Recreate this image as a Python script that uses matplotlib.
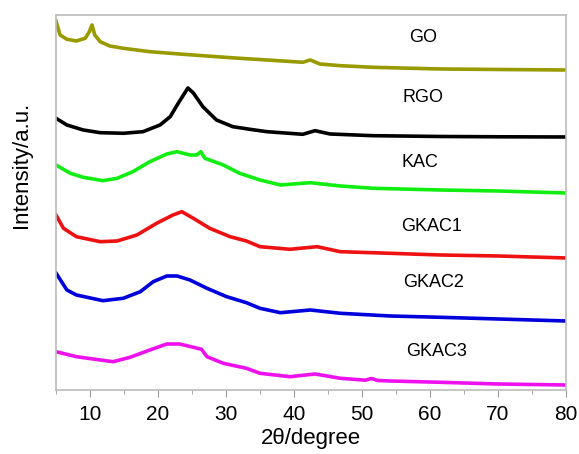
import numpy as np
import matplotlib
matplotlib.use("Agg")
import matplotlib.pyplot as plt
from matplotlib.ticker import MultipleLocator

plt.rcParams['font.family'] = ['Liberation Sans', 'DejaVu Sans']

# XRD patterns (stacked, arbitrary units)
go_x = [5, 5.6, 6.6, 8.0, 9.3, 9.9, 10.3, 10.7, 11.5, 12.9, 14.9, 18.8, 23.7, 28.6, 32, 36,
        41.3, 42.4, 43.8, 46.8, 51.6, 61.5, 70, 80]
go_y = [369, 355, 350.7, 349, 351.7, 358.3, 365, 355, 348.3, 344, 341.7, 338.3, 335.7, 333.3,
        331.7, 330, 327.7, 330, 326, 324.3, 322.7, 321, 320.5, 320]

rgo_x = [5, 6.6, 9, 11.5, 14.9, 17.8, 20.3, 21.8, 23, 24.4, 25.2, 26.6, 28.6, 31, 33.5, 36,
         41.3, 43.1, 45.3, 51.6, 61.5, 70, 80]
rgo_y = [271.7, 265, 260, 257.3, 256.7, 258.3, 265, 273.3, 287, 302, 297, 283.3, 270, 263.3,
         260.7, 258.3, 255.7, 259.3, 256, 254.3, 253.5, 253.2, 253]

kac_x = [5, 7.1, 9, 11.9, 14, 16.3, 18.8, 21.3, 22.8, 24.7, 25.7, 26.3, 26.9, 29.6, 32, 35,
         38, 42.4, 46.8, 51.6, 61.5, 70, 80]
kac_y = [225, 216.7, 212.7, 209.3, 211.7, 218.3, 228.3, 236, 238.3, 235, 235, 238.3, 231.7,
         225, 216.7, 210, 205, 207.3, 204, 201.7, 200, 199, 197]

gkac1_x = [5, 6.1, 8, 11.5, 14, 16.9, 19.8, 22.2, 23.5, 25.2, 27.6, 30.6, 33, 35, 39.4, 43.4,
           46.8, 54.1, 61.5, 70, 80]
gkac1_y = [175, 161.7, 153.3, 148.3, 149, 155, 166.7, 175, 178.3, 171.7, 161.7, 153.3, 149,
           143.3, 140.7, 143.3, 138.3, 136.7, 135, 134, 132]

gkac2_x = [5, 6.6, 8, 11.9, 14.9, 17.4, 19.3, 21.3, 22.8, 24.7, 27.2, 30.1, 33, 35, 38, 42.4,
           46.8, 54.1, 61.5, 70, 80]
gkac2_y = [117, 100, 95, 89.3, 91.7, 98.3, 108.3, 114, 114, 110, 101.7, 93.3, 87.3, 81.7,
           77.3, 80, 76.7, 74, 72.7, 71, 69]

gkac3_x = [5, 8, 11.5, 13.4, 15.9, 18.8, 21.3, 23.2, 25.2, 26.4, 27.2, 29.6, 33, 35, 39.4,
           43.1, 46.8, 50.5, 51.4, 52.3, 54.1, 61.5, 70, 80]
gkac3_y = [38.3, 33.3, 30, 28.3, 32.7, 40, 46, 46, 42.7, 40.7, 33.3, 26.7, 21.7, 16.7, 13.3,
           16, 11.7, 9.8, 11.5, 9.5, 9, 7.7, 6, 5]

names = ["GO", "RGO", "KAC", "GKAC1", "GKAC2", "GKAC3"]
colors = ["#999900", "black", "#11ee11", "#ee1111", "#0000dd", "#ee11ee"]
label_x = [59, 59, 58.5, 60.3, 60.5, 61]
label_y = [352, 292, 227, 163, 107, 38]

series = [(go_x, go_y), (rgo_x, rgo_y), (kac_x, kac_y),
          (gkac1_x, gkac1_y), (gkac2_x, gkac2_y), (gkac3_x, gkac3_y)]

fig = plt.figure(figsize=(5.79, 4.54), dpi=100)
ax = fig.add_axes([0.0967, 0.141, 0.8808, 0.826])

for (xs, ys), c in zip(series, colors):
    ax.plot(xs, ys, color=c, lw=2.6, solid_joinstyle="round")

for name, lx, ly in zip(names, label_x, label_y):
    ax.text(lx, ly, name, fontsize=13, ha="center", va="center")

ax.set_xlim(5, 80)
ax.set_ylim(0, 375)
ax.xaxis.set_major_locator(MultipleLocator(10))
ax.xaxis.set_minor_locator(MultipleLocator(5))
ax.set_yticks([])
ax.tick_params(axis="x", which="major", direction="out", length=5, color="#999999",
               labelsize=15, pad=6)
ax.tick_params(axis="x", which="minor", direction="out", length=3, color="#999999")
for s in ax.spines.values():
    s.set_color("#bbbbbb")
    s.set_linewidth(1.2)

ax.set_xlabel("2\u03b8/degree", fontsize=16, labelpad=3)
ax.set_ylabel("Intensity/a.u.", fontsize=16)
# the y label sits above the axes centre in the reference
ax.yaxis.set_label_coords(-0.047, 0.6)

fig.savefig("out.png", dpi=100)
